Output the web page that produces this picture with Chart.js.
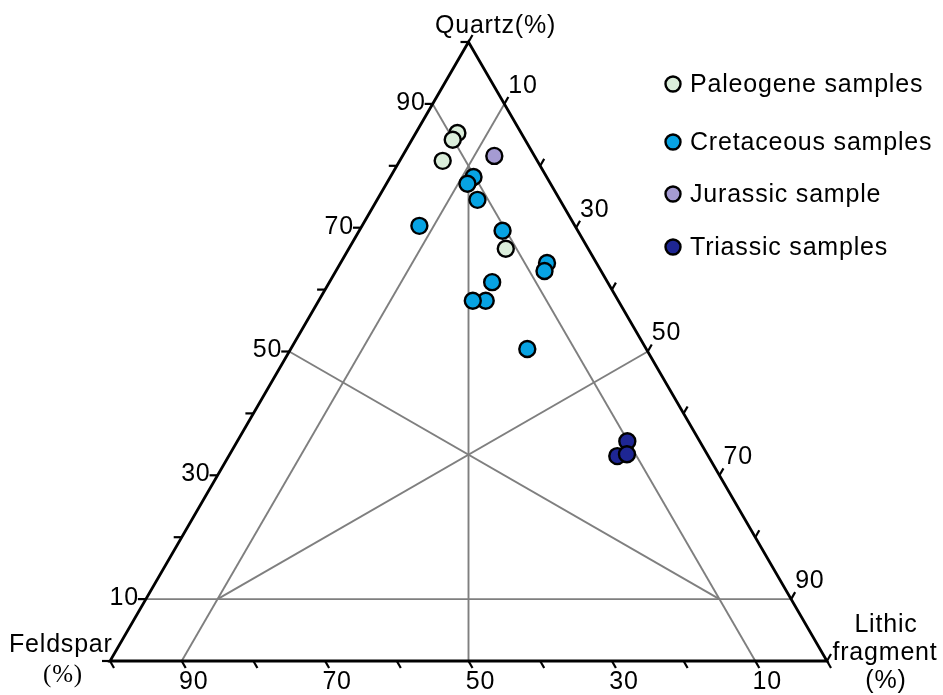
<!DOCTYPE html>
<html>
<head>
<meta charset="utf-8">
<script src="https://cdn.jsdelivr.net/npm/chart.js@4.4.1/dist/chart.umd.min.js"></script>
<style>
  html, body { margin: 0; padding: 0; background: #ffffff; }
  #wrap { position: relative; width: 943px; height: 695px; }
</style>
</head>
<body>
<div id="wrap"><canvas id="c"></canvas></div>
<script>
// ---- DATA (ternary compositions, % : [Quartz, Feldspar, Lithic]) ----
const seriesNames = ["Paleogene samples", "Cretaceous samples", "Jurassic sample", "Triassic samples"];
const paleogeneQ = [85.3, 84.2, 80.8, 66.6];
const paleogeneF = [8.9, 10.1, 13.2, 11.5];
const paleogeneL = [5.8, 5.7, 6.0, 21.9];

const cretaceousQ = [78.2, 77.1, 74.5, 70.3, 69.5, 64.3, 63.0, 61.2, 58.2, 58.2, 50.4];
const cretaceousF = [10.2, 11.6, 11.5, 21.7, 10.5, 6.9, 7.9, 16.1, 18.5, 20.3, 16.6];
const cretaceousL = [11.6, 11.3, 14.0, 8.0, 20.0, 28.8, 29.1, 22.7, 23.3, 21.5, 33.0];

const jurassicQ = [81.6];
const jurassicF = [5.6];
const jurassicL = [12.8];

const triassicQ = [35.5, 33.1, 33.4];
const triassicF = [10.1, 12.7, 11.2];
const triassicL = [54.4, 54.2, 55.4];

// axis tick values (every 10 %) and labelled ticks
const tickValues = [0, 10, 20, 30, 40, 50, 60, 70, 80, 90, 100];
const tickLabels = [10, 30, 50, 70, 90];

// classification / reference lines, endpoints as [Q, F, L]
const refLineStarts = [[10, 90, 0], [90, 10, 0], [90, 0, 10], [50, 50, 0], [50, 0, 50], [0, 50, 50]];
const refLineEnds   = [[10, 0, 90], [0, 10, 90], [0, 90, 10], [10, 10, 80], [10, 80, 10], [80, 10, 10]];

const vertexNames = ["Quartz(%)", "Feldspar", "(%)", "Lithic", "fragment", "(%)"];

// ---- ternary -> cartesian (data units) ----
const H = Math.sqrt(3) / 2;
function tern(q, f, l) {
  const s = q + f + l;
  q = q / s * 100; l = l / s * 100;
  return { x: l + q / 2, y: q * H };
}
function toPoints(Q, F, L) { return Q.map((q, i) => tern(q, F[i], L[i])); }

const colors = ["#dbeedb", "#07a3e3", "#a59bd2", "#1e2693"];

const datasets = [
  { label: seriesNames[0], data: toPoints(paleogeneQ, paleogeneF, paleogeneL), backgroundColor: colors[0] },
  { label: seriesNames[1], data: toPoints(cretaceousQ, cretaceousF, cretaceousL), backgroundColor: colors[1] },
  { label: seriesNames[2], data: toPoints(jurassicQ, jurassicF, jurassicL), backgroundColor: colors[2] },
  { label: seriesNames[3], data: toPoints(triassicQ, triassicF, triassicL), backgroundColor: colors[3] }
].map(d => Object.assign(d, {
  borderColor: "#000000", borderWidth: 2.4, pointRadius: 8, pointHoverRadius: 8, clip: false
}));

const FONT = "25px 'Liberation Sans', Arial, sans-serif";
const SERIF = "25px 'Liberation Serif', 'Times New Roman', serif";
const SPACING = "0.8px";

const ternaryPlugin = {
  id: "ternaryFrame",
  beforeDatasetsDraw(chart) {
    const ctx = chart.ctx;
    const xs = chart.scales.x, ys = chart.scales.y;
    const P = (q, f, l) => { const t = tern(q, f, l); return { x: xs.getPixelForValue(t.x), y: ys.getPixelForValue(t.y) }; };
    ctx.save();
    // reference lines
    ctx.strokeStyle = "#7f7f7f";
    ctx.lineWidth = 1.9;
    refLineStarts.forEach((s, i) => {
      const a = P(s[0], s[1], s[2]), b = P(refLineEnds[i][0], refLineEnds[i][1], refLineEnds[i][2]);
      ctx.beginPath(); ctx.moveTo(a.x, a.y); ctx.lineTo(b.x, b.y); ctx.stroke();
    });
    // triangle
    const top = P(100, 0, 0), bl = P(0, 100, 0), br = P(0, 0, 100);
    ctx.strokeStyle = "#000000";
    ctx.lineWidth = 2.8;
    ctx.lineJoin = "miter";
    ctx.beginPath(); ctx.moveTo(top.x, top.y); ctx.lineTo(bl.x, bl.y); ctx.lineTo(br.x, br.y); ctx.closePath(); ctx.stroke();
    // ticks
    ctx.lineWidth = 2.2;
    const len = 8;
    tickValues.forEach(v => {
      let p = P(v, 100 - v, 0);
      ctx.beginPath(); ctx.moveTo(p.x, p.y); ctx.lineTo(p.x - len, p.y); ctx.stroke();
      p = P(100 - v, 0, v);
      ctx.beginPath(); ctx.moveTo(p.x, p.y); ctx.lineTo(p.x + len * 0.5, p.y - len * H); ctx.stroke();
      p = P(0, v, 100 - v);
      ctx.beginPath(); ctx.moveTo(p.x, p.y); ctx.lineTo(p.x + len * 0.5, p.y + len * H); ctx.stroke();
    });
    // tick labels
    ctx.fillStyle = "#000000";
    ctx.font = FONT;
    ctx.letterSpacing = SPACING;
    tickLabels.forEach(v => {
      let p = P(v, 100 - v, 0);
      ctx.textAlign = "right"; ctx.textBaseline = "middle";
      ctx.fillText(String(v), p.x - 7, p.y - 1);
      p = P(100 - v, 0, v);
      ctx.textAlign = "left"; ctx.textBaseline = "middle";
      ctx.fillText(String(v), p.x + 4, p.y - 18);
      p = P(0, v, 100 - v);
      ctx.textAlign = "center"; ctx.textBaseline = "middle";
      ctx.fillText(String(v), p.x + 12, p.y + 21);
    });
    // vertex labels
    ctx.textBaseline = "alphabetic";
    ctx.textAlign = "center";
    ctx.fillText(vertexNames[0], top.x + 27, top.y - 9);
    ctx.textAlign = "left";
    ctx.fillText(vertexNames[1], 9, bl.y - 9);
    ctx.font = SERIF; ctx.textAlign = "center";
    ctx.fillText(vertexNames[2], 63, bl.y + 21);
    ctx.font = FONT;
    ctx.fillText(vertexNames[3], br.x + 59, br.y - 29);
    ctx.fillText(vertexNames[4], br.x + 58, br.y - 1);
    ctx.fillText(vertexNames[5], br.x + 59, br.y + 27);
    ctx.restore();
  },
  afterDatasetsDraw(chart, args, opts) {
    const ctx = chart.ctx;
    ctx.save();
    ctx.font = FONT;
    ctx.letterSpacing = SPACING;
    ctx.textAlign = "left";
    ctx.textBaseline = "alphabetic";
    chart.data.datasets.forEach((ds, i) => {
      const y = opts.rows[i];
      ctx.beginPath();
      ctx.arc(opts.x, y, 7.5, 0, Math.PI * 2);
      ctx.fillStyle = ds.backgroundColor; ctx.fill();
      ctx.lineWidth = 2.4; ctx.strokeStyle = "#000"; ctx.stroke();
      ctx.fillStyle = "#000000";
      ctx.fillText(ds.label, opts.x + 17, y + 8);
    });
    ctx.restore();
  }
};

new Chart(document.getElementById("c"), {
  type: "scatter",
  data: { datasets },
  options: {
    responsive: true,
    maintainAspectRatio: false,
    animation: false,
    events: [],
    devicePixelRatio: 1,
    layout: { padding: { left: 110, right: 116, top: 42, bottom: 34 } },
    scales: {
      x: { type: "linear", min: 0, max: 100, display: false },
      y: { type: "linear", min: 0, max: 100 * H, display: false }
    },
    plugins: {
      legend: { display: false },
      tooltip: { enabled: false },
      ternaryFrame: { x: 673, rows: [84, 142, 194, 247] }
    }
  },
  plugins: [ternaryPlugin]
});
</script>
</body>
</html>
